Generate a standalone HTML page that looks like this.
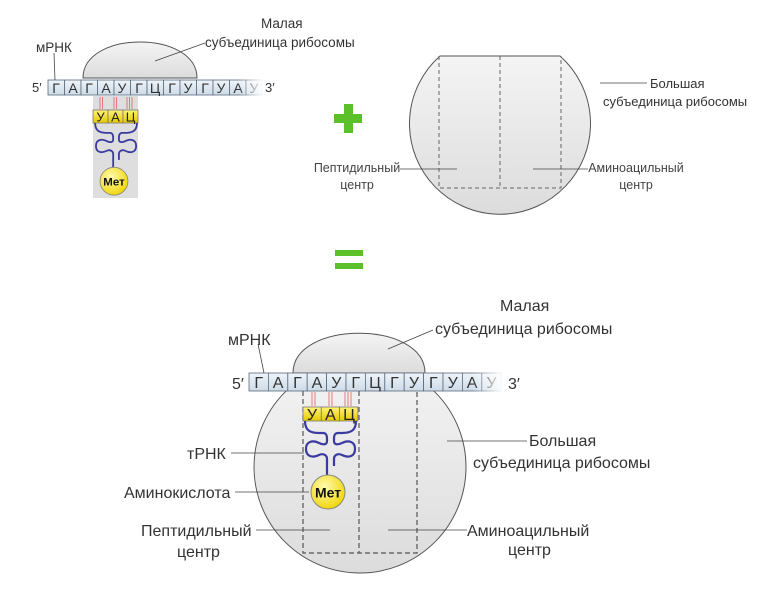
<!DOCTYPE html>
<html><head><meta charset="utf-8"><style>
html,body{margin:0;padding:0;background:#fff;}
svg{display:block;font-family:"Liberation Sans",Arial,sans-serif;}
</style></head><body>
<svg width="767" height="590" viewBox="0 0 767 590" xmlns="http://www.w3.org/2000/svg">
<defs>
<linearGradient id="gr" x1="0" y1="0" x2="0" y2="1"><stop offset="0" stop-color="#f4f4f4"/><stop offset="1" stop-color="#dcdcdc"/></linearGradient>
<linearGradient id="cell" x1="0" y1="0" x2="0" y2="1"><stop offset="0" stop-color="#eef4fa"/><stop offset="1" stop-color="#cddbe8"/></linearGradient>
<linearGradient id="fade" x1="0" y1="0" x2="1" y2="0"><stop offset="0" stop-color="#fff" stop-opacity="0"/><stop offset="1" stop-color="#fff" stop-opacity="1"/></linearGradient>
<linearGradient id="yel" x1="0" y1="0" x2="0" y2="1"><stop offset="0" stop-color="#fff27a"/><stop offset="1" stop-color="#e6c800"/></linearGradient>
<radialGradient id="met" cx="0.4" cy="0.35" r="0.7"><stop offset="0" stop-color="#fffbb0"/><stop offset="1" stop-color="#f0d400"/></radialGradient>
<g id="trna">
<g fill="none" stroke="#3a3aa0" stroke-width="2.2">
<path d="M2,0 C2,10 8,12 16,12 L20,12 C24,12 24,16 24,18 L24,20 C24,24 20,24 16,22 C10,19 3,20 3,28 C3,36 10,37 16,34 C20,32 24,34 24,38 L24,55"/>
<path d="M53,0 C53,10 47,12 39,12 L35,12 C31,12 31,16 31,18 L31,20 C31,24 35,24 39,22 C45,19 52,20 52,28 C52,36 45,37 39,34 C35,32 31,34 31,38 L31,45"/>
</g>
<circle cx="25" cy="71" r="17" fill="url(#met)" stroke="#888" stroke-width="1"/>
<text x="25" y="76.5" font-size="14" font-weight="bold" text-anchor="middle" fill="#111">Мет</text>
</g>
</defs>

<!-- ===== TOP LEFT ===== -->
<rect x="93" y="96" width="45" height="102" fill="#dedede"/>
<path d="M83,78 C83,30 197,30 197,78 Z" fill="url(#gr)" stroke="#555" stroke-width="1"/>
<g font-size="13" fill="#333">
<text x="32" y="92">5′</text>
<text x="265" y="92">3′</text>
</g>
<g stroke="#5a6a7a" stroke-width="0.8" fill="url(#cell)">
<rect x="48" y="80" width="16.5" height="15"/><rect x="64.5" y="80" width="16.5" height="15"/><rect x="81" y="80" width="16.5" height="15"/><rect x="97.5" y="80" width="16.5" height="15"/><rect x="114" y="80" width="16.5" height="15"/><rect x="130.5" y="80" width="16.5" height="15"/><rect x="147" y="80" width="16.5" height="15"/><rect x="163.5" y="80" width="16.5" height="15"/><rect x="180" y="80" width="16.5" height="15"/><rect x="196.5" y="80" width="16.5" height="15"/><rect x="213" y="80" width="16.5" height="15"/><rect x="229.5" y="80" width="16.5" height="15"/><rect x="246" y="80" width="16.5" height="15"/>
</g>
<g font-size="14" fill="#333" text-anchor="middle">
<text x="56" y="93">Г</text><text x="73" y="93">А</text><text x="89" y="93">Г</text><text x="106" y="93">А</text><text x="122" y="93">У</text><text x="139" y="93">Г</text><text x="155" y="93">Ц</text><text x="172" y="93">Г</text><text x="188" y="93">У</text><text x="205" y="93">Г</text><text x="221" y="93">У</text><text x="238" y="93">А</text><text x="254" y="93">У</text>
</g>
<rect x="238" y="79" width="26" height="17" fill="url(#fade)"/>
<g stroke="#e06060" stroke-width="0.8">
<line x1="100" y1="97" x2="100" y2="109"/><line x1="102.5" y1="97" x2="102.5" y2="109"/>
<line x1="114" y1="97" x2="114" y2="109"/><line x1="116.5" y1="97" x2="116.5" y2="109"/>
<line x1="127" y1="97" x2="127" y2="109"/><line x1="129.5" y1="97" x2="129.5" y2="109"/><line x1="132" y1="97" x2="132" y2="109"/>
</g>
<g stroke="#777" stroke-width="0.8" fill="url(#yel)">
<rect x="93" y="110" width="15" height="13"/><rect x="108" y="110" width="15" height="13"/><rect x="123" y="110" width="15" height="13"/>
</g>
<g font-size="13" fill="#222" text-anchor="middle"><text x="100.5" y="121.5">У</text><text x="115.5" y="121.5">А</text><text x="130.5" y="121.5">Ц</text></g>
<g transform="translate(93.5,123) scale(0.82)"><use href="#trna"/></g>
<line x1="54" y1="53" x2="55" y2="80" stroke="#444" stroke-width="0.8"/>
<g font-size="13.5" fill="#333">
<text x="36" y="52">мРНК</text>
<text x="261" y="28">Малая</text>
<text x="205" y="47">субъединица рибосомы</text>
</g>
<line x1="155" y1="61" x2="205" y2="43" stroke="#444" stroke-width="0.8"/>

<!-- plus / equals -->
<rect x="334" y="114" width="28" height="9" fill="#5cc02a"/>
<rect x="344" y="104" width="9" height="29" fill="#5cc02a"/>
<rect x="335" y="250" width="28" height="6" fill="#5cc02a"/>
<rect x="335" y="263" width="28" height="6" fill="#5cc02a"/>

<!-- ===== TOP RIGHT ===== -->
<path d="M440,56 L560,56 A90.5,90.5 0 1 1 440,56 Z" fill="url(#gr)" stroke="#555" stroke-width="1"/>
<g fill="none" stroke="#666" stroke-width="1" stroke-dasharray="4,3">
<path d="M439,56 L439,188 L561,188 L561,56"/><path d="M500,56 L500,188"/>
</g>
<g stroke="#444" stroke-width="0.8">
<line x1="400" y1="169" x2="457" y2="169"/><line x1="533" y1="169" x2="588" y2="169"/>
<line x1="600" y1="83" x2="647" y2="83"/>
</g>
<g font-size="12.5" fill="#444" text-anchor="middle">
<text x="357" y="172">Пептидильный</text><text x="357" y="189">центр</text>
<text x="636" y="172">Аминоацильный</text><text x="636" y="189">центр</text>
</g>
<g font-size="13" fill="#333">
<text x="650" y="88">Большая</text><text x="603" y="106">субъединица рибосомы</text>
</g>

<!-- ===== BOTTOM ===== -->
<circle cx="360" cy="467" r="106" fill="url(#gr)" stroke="#555" stroke-width="1"/>
<path d="M293,373 C293,320 425,320 425,373 Z" fill="url(#gr)" stroke="#555" stroke-width="1"/>
<g fill="none" stroke="#555" stroke-width="1.2" stroke-dasharray="5,3">
<path d="M303,391 L303,553 L417,553 L417,391"/><path d="M359,391 L359,553"/>
</g>
<g stroke="#5a6a7a" stroke-width="0.8" fill="url(#cell)">
<rect x="249" y="373" width="19.4" height="18"/><rect x="268.4" y="373" width="19.4" height="18"/><rect x="287.8" y="373" width="19.4" height="18"/><rect x="307.2" y="373" width="19.4" height="18"/><rect x="326.6" y="373" width="19.4" height="18"/><rect x="346" y="373" width="19.4" height="18"/><rect x="365.4" y="373" width="19.4" height="18"/><rect x="384.8" y="373" width="19.4" height="18"/><rect x="404.2" y="373" width="19.4" height="18"/><rect x="423.6" y="373" width="19.4" height="18"/><rect x="443" y="373" width="19.4" height="18"/><rect x="462.4" y="373" width="19.4" height="18"/><rect x="481.8" y="373" width="19.4" height="18"/>
</g>
<g font-size="16" fill="#333" text-anchor="middle">
<text x="258.7" y="388">Г</text><text x="278.1" y="388">А</text><text x="297.5" y="388">Г</text><text x="316.9" y="388">А</text><text x="336.3" y="388">У</text><text x="355.7" y="388">Г</text><text x="375.1" y="388">Ц</text><text x="394.5" y="388">Г</text><text x="413.9" y="388">У</text><text x="433.3" y="388">Г</text><text x="452.7" y="388">У</text><text x="472.1" y="388">А</text><text x="491.5" y="388">У</text>
</g>
<rect x="472" y="372" width="32" height="20" fill="url(#fade)"/>
<text x="232" y="389" font-size="16" fill="#333">5′</text>
<text x="508" y="389" font-size="16" fill="#333">3′</text>
<g stroke="#e06060" stroke-width="0.8">
<line x1="312" y1="392" x2="312" y2="406"/><line x1="315" y1="392" x2="315" y2="406"/>
<line x1="329" y1="392" x2="329" y2="406"/><line x1="332" y1="392" x2="332" y2="406"/>
<line x1="345" y1="392" x2="345" y2="406"/><line x1="348" y1="392" x2="348" y2="406"/><line x1="351" y1="392" x2="351" y2="406"/>
</g>
<g stroke="#777" stroke-width="0.8" fill="url(#yel)">
<rect x="303" y="407" width="18.3" height="14"/><rect x="321.3" y="407" width="18.3" height="14"/><rect x="339.6" y="407" width="18.3" height="14"/>
</g>
<g font-size="16" fill="#222" text-anchor="middle"><text x="312" y="420">У</text><text x="330.5" y="420">А</text><text x="349" y="420">Ц</text></g>
<g transform="translate(303,421)"><use href="#trna"/></g>
<g stroke="#444" stroke-width="0.8">
<line x1="258" y1="344" x2="264" y2="373"/>
<line x1="388" y1="349" x2="433" y2="330"/>
<line x1="447" y1="441" x2="527" y2="441"/>
<line x1="231" y1="453" x2="304" y2="453"/>
<line x1="235" y1="492" x2="309" y2="492"/>
<line x1="256" y1="530" x2="330" y2="530"/>
<line x1="388" y1="530" x2="467" y2="530"/>
</g>
<g font-size="16" fill="#333">
<text x="228" y="345">мРНК</text>
<text x="500" y="311">Малая</text>
<text x="435" y="334">субъединица рибосомы</text>
<text x="529" y="446">Большая</text>
<text x="473" y="468">субъединица рибосомы</text>
<text x="187" y="459">тРНК</text>
<text x="124" y="498">Аминокислота</text>
<text x="141" y="536">Пептидильный</text>
<text x="177" y="557">центр</text>
<text x="467" y="536">Аминоацильный</text>
<text x="508" y="555">центр</text>
</g>
</svg>
</body></html>
